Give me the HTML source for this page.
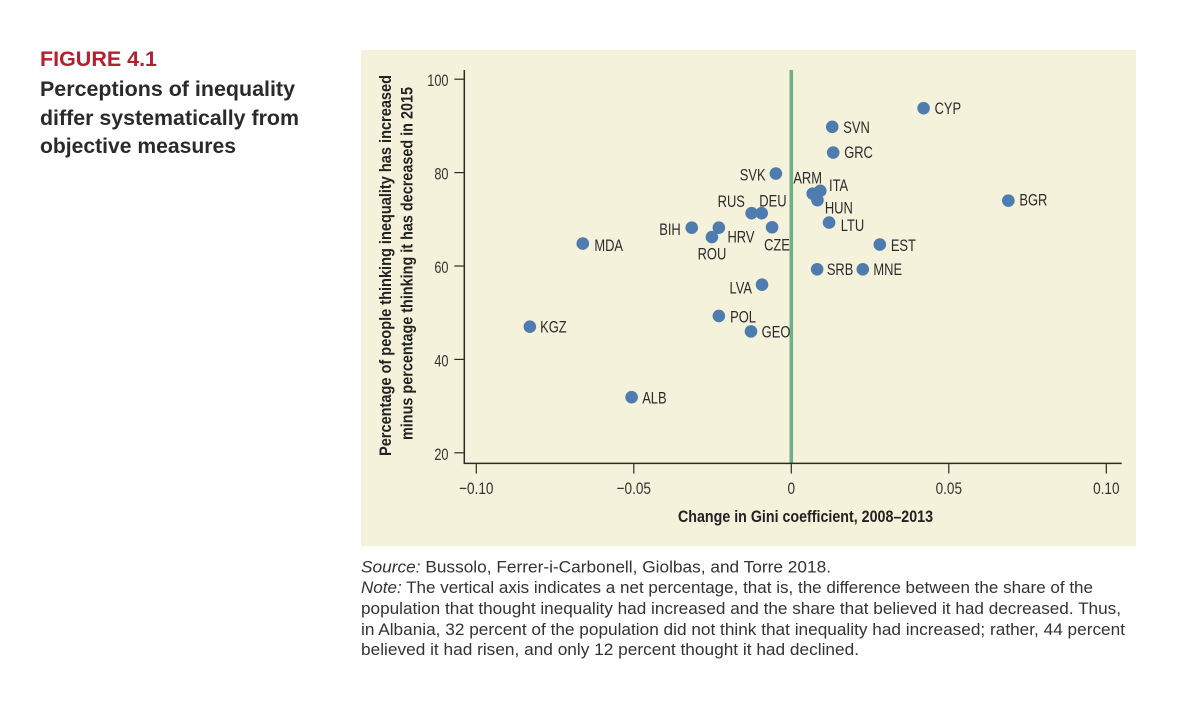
<!DOCTYPE html>
<html lang="en">
<head>
<meta charset="utf-8">
<title>Figure 4.1 Perceptions of inequality</title>
<style>
  html, body { margin: 0; padding: 0; background: #ffffff; }
  svg { display: block; font-family: "Liberation Sans", Arial, sans-serif; }
</style>
</head>
<body>
<svg id="figure" xmlns="http://www.w3.org/2000/svg" width="1200" height="725" viewBox="0 0 1200 725">
  <text x="40" y="66" font-size="21" font-weight="700" fill="#b5202e" textLength="117" lengthAdjust="spacingAndGlyphs">FIGURE 4.1</text>
  <g font-size="21" font-weight="700" fill="#2a2a2a">
    <text x="40" y="96" textLength="255" lengthAdjust="spacingAndGlyphs">Perceptions of inequality</text>
    <text x="40" y="125" textLength="259" lengthAdjust="spacingAndGlyphs">differ systematically from</text>
    <text x="40" y="153" textLength="196" lengthAdjust="spacingAndGlyphs">objective measures</text>
  </g>

  <rect x="361" y="50" width="775" height="496" fill="#f5f2dc"/>
  <g id="plot"></g>

  <text x="678" y="522" font-size="17" font-weight="700" fill="#222222" textLength="255" lengthAdjust="spacingAndGlyphs">Change in Gini coefficient, 2008–2013</text>
  <text transform="translate(391 456) rotate(-90)" font-size="17" font-weight="700" fill="#222222" textLength="381" lengthAdjust="spacingAndGlyphs">Percentage of people thinking inequality has increased</text>
  <text transform="translate(412.5 440) rotate(-90)" font-size="17" font-weight="700" fill="#222222" textLength="353" lengthAdjust="spacingAndGlyphs">minus percentage thinking it has decreased in 2015</text>

  <g font-size="17" fill="#333333">
    <text x="361" y="572.5" textLength="470" lengthAdjust="spacingAndGlyphs"><tspan font-style="italic">Source:</tspan> Bussolo, Ferrer-i-Carbonell, Giolbas, and Torre 2018.</text>
    <text x="361" y="593" textLength="732" lengthAdjust="spacingAndGlyphs"><tspan font-style="italic">Note:</tspan> The vertical axis indicates a net percentage, that is, the difference between the share of the</text>
    <text x="361" y="614" textLength="760" lengthAdjust="spacingAndGlyphs">population that thought inequality had increased and the share that believed it had decreased. Thus,</text>
    <text x="361" y="635" textLength="764" lengthAdjust="spacingAndGlyphs">in Albania, 32 percent of the population did not think that inequality had increased; rather, 44 percent</text>
    <text x="361" y="655" textLength="498" lengthAdjust="spacingAndGlyphs">believed it had risen, and only 12 percent thought it had declined.</text>
  </g>
</svg>
<script>
const countries = ["CYP","SVN","GRC","SVK","ARM","ITA","HUN","BGR","RUS","DEU","CZE","LTU","EST","SRB","MNE","LVA","MDA","BIH","HRV","ROU","KGZ","POL","GEO","ALB"];
const giniChange = [0.0420,0.0130,0.0133,-0.0049,0.0068,0.0092,0.0083,0.0689,-0.0126,-0.0094,-0.0061,0.0120,0.0281,0.0082,0.0227,-0.0093,-0.0662,-0.0316,-0.0230,-0.0252,-0.0830,-0.0230,-0.0128,-0.0507];
const perceptionShare = [93.8,89.8,84.3,79.8,75.5,76.1,74.1,74.0,71.3,71.3,68.3,69.3,64.6,59.3,59.3,56.0,64.8,68.2,68.2,66.2,47.0,49.3,46.0,31.9];
const xTicks = [-0.10,-0.05,0,0.05,0.10];
const xTickLabels = ["−0.10","−0.05","0","0.05","0.10"];
const yTicks = [20,40,60,80,100];
const yTickLabels = ["20","40","60","80","100"];

/* label placement relative to each point (layout only) */
const labelPlacement = {
  CYP:[11,6,"start"], SVN:[11,6,"start"], GRC:[11,5.6,"start"], SVK:[-10.3,7,"end"],
  ARM:[-19.4,-10,"start"], ITA:[8.7,0.3,"start"], HUN:[7.4,13.3,"start"], BGR:[11,5,"start"],
  RUS:[-6.7,-6.3,"end"], DEU:[-2.4,-6.6,"start"], CZE:[-8,23.4,"start"], LTU:[11.7,8.4,"start"],
  EST:[11,6.4,"start"], SRB:[9.7,5.7,"start"], MNE:[10.6,5.7,"start"], LVA:[-10,8.6,"end"],
  MDA:[11.6,7.4,"start"], BIH:[-11,7.3,"end"], HRV:[8.6,15,"start"], ROU:[0,22.6,"middle"],
  KGZ:[10.3,6,"start"], POL:[11.3,6.6,"start"], GEO:[10.7,6.3,"start"], ALB:[10.6,6.3,"start"]
};

const NS = "http://www.w3.org/2000/svg";
const plot = document.getElementById("plot");
const xScale = v => 791.3 + v * 3150;
const yScale = v => 452.8 - (v - 20) * 4.67;

function make(tag, attrs, text) {
  const el = document.createElementNS(NS, tag);
  for (const k in attrs) el.setAttribute(k, attrs[k]);
  if (text !== undefined) el.textContent = text;
  plot.appendChild(el);
  return el;
}

const zeroLine = make("line", {x1: xScale(0), x2: xScale(0), y1: 70, y2: 463, stroke: "#6fb08a", "stroke-width": 3.6});



const yAxis = make("line", {x1: 464.3, x2: 464.3, y1: 70, y2: 464, stroke: "#2b2b2b", "stroke-width": 1.5});



const xAxis = make("line", {x1: 463.6, x2: 1121.7, y1: 463.4, y2: 463.4, stroke: "#2b2b2b", "stroke-width": 1.5});



yTicks.forEach((v, i) => {
  const tick = make("line", {x1: 454.3, x2: 464.3, y1: yScale(v), y2: yScale(v), stroke: "#2b2b2b", "stroke-width": 1.2});
  
  
  const label = make("text", {transform: `translate(448.5 ${yScale(v) + 7}) scale(0.75 1)`, "text-anchor": "end", "font-size": 17, fill: "#333333"}, yTickLabels[i]);
  
  
});

xTicks.forEach((v, i) => {
  const tick = make("line", {x1: xScale(v), x2: xScale(v), y1: 463.4, y2: 473.5, stroke: "#2b2b2b", "stroke-width": 1.2});
  
  
  const label = make("text", {transform: `translate(${xScale(v)} 494) scale(0.8 1)`, "text-anchor": "middle", "font-size": 17, fill: "#333333"}, xTickLabels[i]);
  
  
});

countries.forEach((code, i) => {
  const cx = xScale(giniChange[i]);
  const cy = yScale(perceptionShare[i]);
  const dot = make("circle", {cx: cx, cy: cy, r: 6.3, fill: "#4f7cae"});
  
  
  const place = labelPlacement[code];
  const label = make("text", {transform: `translate(${cx + place[0]} ${cy + place[1]}) scale(0.76 1)`, "text-anchor": place[2], "font-size": 17, fill: "#2b2b2b"}, code);
  
  
});
</script>
</body>
</html>
